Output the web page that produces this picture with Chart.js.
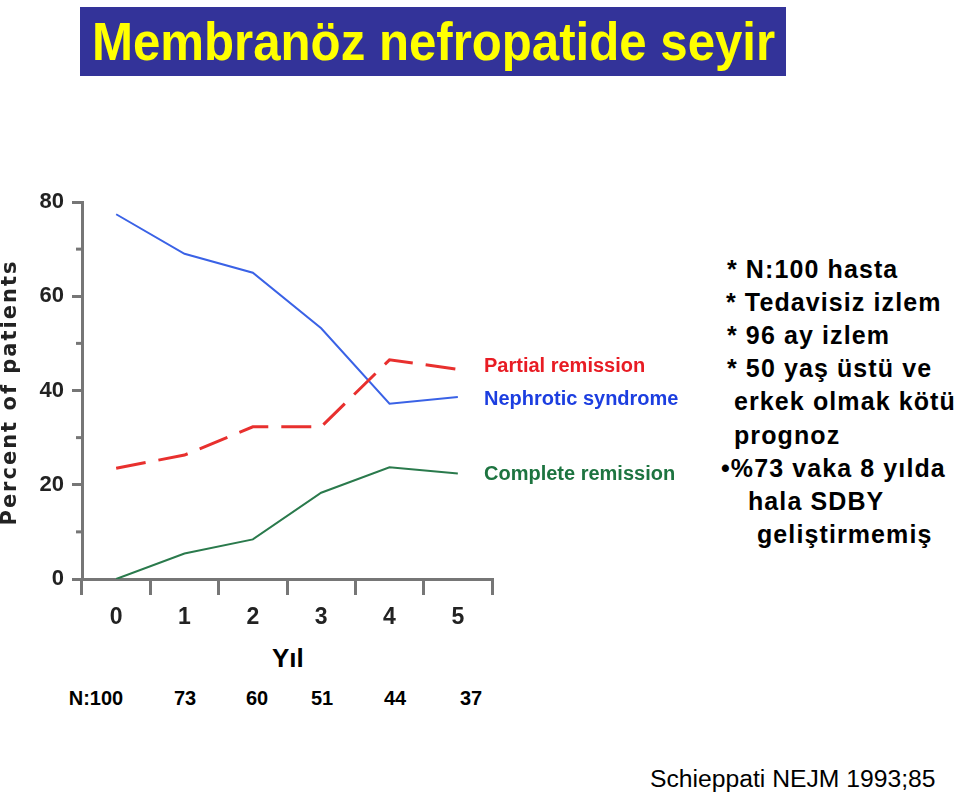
<!DOCTYPE html>
<html>
<head>
<meta charset="utf-8">
<script src="https://cdn.jsdelivr.net/npm/chart.js@4.4.1/dist/chart.umd.min.js"></script>
<style>
  body { margin: 0; background: #fff; width: 960px; height: 797px; position: relative; overflow: hidden; font-family: "Liberation Sans", Arial, sans-serif; }
  #title { position: absolute; left: 80px; top: 7px; width: 706px; height: 69px; background: #333399; overflow: hidden; }
  #title span { position: absolute; left: 12px; top: 0; color: #ffff00; font-weight: bold; font-size: 54px; line-height: 69px;
                white-space: nowrap; transform-origin: 0 50%; }
  #chartBox { position: absolute; left: 0; top: 180px; width: 700px; height: 460px; }
  .note { position: absolute; font-size: 25px; font-weight: bold; letter-spacing: 1.1px; line-height: 30px; color: #000; white-space: nowrap; }
  #yil { position: absolute; left: 272px; top: 643px; font-size: 26px; font-weight: bold; }
  .n { position: absolute; top: 687px; font-size: 20px; font-weight: bold; transform: translateX(-50%); }
  #ref { position: absolute; left: 650px; top: 765px; font-size: 24.7px; }
</style>
</head>
<body>
<div id="title"><span id="titleText">Membranöz nefropatide seyir</span></div>
<div id="chartBox"><canvas id="chart"></canvas></div>
<div id="yil">Yıl</div>
<div id="ref">Schieppati NEJM 1993;85</div>
<script>
// Years of follow-up and the three outcome series (percent of patients)
const years = ['0', '1', '2', '3', '4', '5'];
const nephrotic = [77.4, 69, 65, 53.2, 37.2, 38.6];
const partial = [23.5, 26.3, 32.3, 32.3, 46.5, 44.5];
const complete = [0, 5.4, 8.4, 18.3, 23.7, 22.4];
const patientsAtRisk = ['N:100', '73', '60', '51', '44', '37'];
const nPositions = [96, 185, 257, 322, 395, 471];

const seriesLabels = ['Partial remission', 'Nephrotic syndrome', 'Complete remission'];

// notes on the right: [text, left]
const notes = [
  ['* N:100 hasta', 727],
  ['* Tedavisiz izlem', 726],
  ['* 96 ay izlem', 727],
  ['* 50 yaş üstü ve', 727],
  ['erkek olmak kötü', 734],
  ['prognoz', 734],
  ['•%73 vaka 8 yılda', 721],
  ['hala SDBY', 748],
  ['geliştirmemiş', 757]
];
notes.forEach((n, i) => {
  const el = document.createElement('div');
  el.className = 'note';
  el.style.left = n[1] + 'px';
  el.style.top = (254 + i * 33.1) + 'px';
  el.textContent = n[0];
  document.body.appendChild(el);
});

// squeeze the title to the width of the original
const titleText = document.getElementById('titleText');
titleText.style.transform = 'scaleX(' + (683 / titleText.offsetWidth) + ')';

// patients at risk row under the axis
patientsAtRisk.forEach((txt, i) => {
  const el = document.createElement('div');
  el.className = 'n';
  el.style.left = nPositions[i] + 'px';
  el.textContent = txt;
  document.body.appendChild(el);
});

const axisColor = '#767676';

// short minor ticks, y title and end-of-line labels
const extrasPlugin = {
  id: 'extras',
  afterDraw(chart) {
    const ctx = chart.ctx;
    const y = chart.scales.y;
    const area = chart.chartArea;
    ctx.save();
    ctx.strokeStyle = axisColor;
    ctx.lineWidth = 3;
    [10, 30, 50, 70].forEach(v => {
      const py = y.getPixelForValue(v);
      ctx.beginPath();
      ctx.moveTo(area.left - 6, py);
      ctx.lineTo(area.left, py);
      ctx.stroke();
    });

    ctx.save();
    ctx.translate(11, (y.getPixelForValue(0) + y.getPixelForValue(80)) / 2 + 2);
    ctx.rotate(-Math.PI / 2);
    ctx.font = 'bold 21px "DejaVu Sans", Verdana, sans-serif';
    ctx.letterSpacing = '2px';
    ctx.fillStyle = '#222';
    ctx.textAlign = 'center';
    ctx.textBaseline = 'middle';
    ctx.fillText('Percent of patients', 0, 0);
    ctx.restore();

    ctx.font = 'bold 20px "Liberation Sans", Arial, sans-serif';
    ctx.textBaseline = 'middle';
    chart.data.datasets.forEach(ds => {
      const last = ds.data[ds.data.length - 1];
      ctx.fillStyle = ds.labelColor;
      ctx.fillText(ds.label, area.right - 8, y.getPixelForValue(last) + ds.labelShift);
    });
    ctx.restore();
  }
};

new Chart(document.getElementById('chart'), {
  type: 'line',
  data: {
    labels: years,
    datasets: [
      {
        label: seriesLabels[0],
        data: partial,
        borderColor: '#e8302e',
        labelColor: '#e81c24',
        labelShift: -3,
        borderWidth: 3,
        borderDash: [30, 13],
        pointRadius: 0,
        tension: 0
      },
      {
        label: seriesLabels[1],
        data: nephrotic,
        borderColor: '#3a62e6',
        labelColor: '#1c3ee0',
        labelShift: 2,
        borderWidth: 2,
        pointRadius: 0,
        tension: 0
      },
      {
        label: seriesLabels[2],
        data: complete,
        borderColor: '#2a7a4c',
        labelColor: '#1d7440',
        labelShift: 1,
        borderWidth: 2,
        pointRadius: 0,
        tension: 0
      }
    ]
  },
  options: {
    responsive: true,
    maintainAspectRatio: false,
    animation: false,
    layout: { padding: { top: 22, right: 208, left: 0, bottom: 0 } },
    plugins: {
      legend: { display: false },
      tooltip: { enabled: false }
    },
    scales: {
      x: {
        type: 'category',
        offset: true,
        border: { color: axisColor, width: 3 },
        grid: { offset: true, drawOnChartArea: false, drawTicks: true, tickLength: 16, color: axisColor, lineWidth: 3 },
        ticks: { color: '#222', padding: 9, font: { family: '"Liberation Sans", Arial, sans-serif', weight: 'bold', size: 23 } },
        afterFit: s => { s.height = 61; }
      },
      y: {
        min: 0,
        max: 80,
        border: { color: axisColor, width: 3 },
        grid: { drawOnChartArea: false, drawTicks: true, tickLength: 10, color: axisColor, lineWidth: 3 },
        ticks: { stepSize: 20, color: '#222', padding: 8, font: { family: '"Liberation Sans", Arial, sans-serif', weight: 'bold', size: 22 } },
        afterFit: s => { s.width = 82; }
      }
    }
  },
  plugins: [extrasPlugin]
});
</script>
</body>
</html>
